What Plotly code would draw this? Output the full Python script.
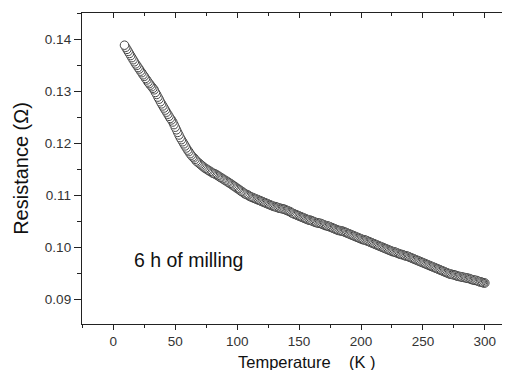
import plotly.graph_objects as go

temperature = [
    9, 10, 11, 12, 13, 14, 15, 16, 17, 18,
    19, 20, 21, 22, 23, 24, 25, 26, 27, 28,
    29, 30, 31, 32, 33, 34, 35, 36, 37, 38,
    39, 40, 41, 42, 43, 44, 45, 46, 47, 48,
    49, 50, 51, 52, 53, 54, 55, 56, 57, 58,
    59, 60, 61, 62, 63, 64, 65, 66, 67, 68,
    69, 70, 71, 72, 73, 74, 75, 76, 77, 78,
    79, 80, 81, 82, 83, 84, 85, 86, 87, 88,
    89, 90, 91, 92, 93, 94, 95, 96, 97, 98,
    99, 100, 101, 102, 103, 104, 105, 106, 107, 108,
    109, 110, 111, 112, 113, 114, 115, 116, 117, 118,
    119, 120, 121, 122, 123, 124, 125, 126, 127, 128,
    129, 130, 131, 132, 133, 134, 135, 136, 137, 138,
    139, 140, 141, 142, 143, 144, 145, 146, 147, 148,
    149, 150, 151, 152, 153, 154, 155, 156, 157, 158,
    159, 160, 161, 162, 163, 164, 165, 166, 167, 168,
    169, 170, 171, 172, 173, 174, 175, 176, 177, 178,
    179, 180, 181, 182, 183, 184, 185, 186, 187, 188,
    189, 190, 191, 192, 193, 194, 195, 196, 197, 198,
    199, 200, 201, 202, 203, 204, 205, 206, 207, 208,
    209, 210, 211, 212, 213, 214, 215, 216, 217, 218,
    219, 220, 221, 222, 223, 224, 225, 226, 227, 228,
    229, 230, 231, 232, 233, 234, 235, 236, 237, 238,
    239, 240, 241, 242, 243, 244, 245, 246, 247, 248,
    249, 250, 251, 252, 253, 254, 255, 256, 257, 258,
    259, 260, 261, 262, 263, 264, 265, 266, 267, 268,
    269, 270, 271, 272, 273, 274, 275, 276, 277, 278,
    279, 280, 281, 282, 283, 284, 285, 286, 287, 288,
    289, 290, 291, 292, 293, 294, 295, 296, 297, 298,
    299, 300]
resistance = [
    0.1389, 0.1385, 0.1381, 0.1377, 0.1373, 0.1369, 0.1365, 0.1361, 0.1357, 0.1353,
    0.1350, 0.1346, 0.1343, 0.1339, 0.1336, 0.1332, 0.1329, 0.1325, 0.1322, 0.1318,
    0.1315, 0.1312, 0.1309, 0.1306, 0.1303, 0.1298, 0.1294, 0.1289, 0.1285, 0.1280,
    0.1276, 0.1272, 0.1268, 0.1264, 0.1260, 0.1256, 0.1252, 0.1248, 0.1245, 0.1241,
    0.1236, 0.1231, 0.1226, 0.1221, 0.1216, 0.1211, 0.1207, 0.1203, 0.1199, 0.1195,
    0.1191, 0.1187, 0.1184, 0.1180, 0.1177, 0.1174, 0.1172, 0.1169, 0.1166, 0.1164,
    0.1162, 0.1160, 0.1158, 0.1156, 0.1154, 0.1152, 0.1151, 0.1149, 0.1148, 0.1146,
    0.1145, 0.1143, 0.1142, 0.1141, 0.1140, 0.1138, 0.1137, 0.1135, 0.1134, 0.1132,
    0.1131, 0.1129, 0.1128, 0.1126, 0.1125, 0.1123, 0.1122, 0.1120, 0.1118, 0.1117,
    0.1115, 0.1113, 0.1112, 0.1110, 0.1108, 0.1107, 0.1105, 0.1103, 0.1102, 0.1101,
    0.1100, 0.1098, 0.1097, 0.1096, 0.1095, 0.1094, 0.1093, 0.1092, 0.1091, 0.1090,
    0.1089, 0.1088, 0.1087, 0.1086, 0.1085, 0.1084, 0.1083, 0.1082, 0.1081, 0.1080,
    0.1079, 0.1078, 0.1078, 0.1077, 0.1076, 0.1075, 0.1075, 0.1074, 0.1074, 0.1073,
    0.1072, 0.1071, 0.1070, 0.1069, 0.1068, 0.1066, 0.1065, 0.1064, 0.1063, 0.1062,
    0.1061, 0.1060, 0.1059, 0.1058, 0.1057, 0.1056, 0.1055, 0.1054, 0.1053, 0.1052,
    0.1052, 0.1051, 0.1050, 0.1049, 0.1048, 0.1047, 0.1047, 0.1046, 0.1046, 0.1045,
    0.1044, 0.1043, 0.1042, 0.1041, 0.1041, 0.1040, 0.1039, 0.1038, 0.1037, 0.1036,
    0.1035, 0.1034, 0.1033, 0.1032, 0.1032, 0.1031, 0.1031, 0.1030, 0.1029, 0.1028,
    0.1027, 0.1026, 0.1025, 0.1024, 0.1023, 0.1022, 0.1021, 0.1020, 0.1019, 0.1018,
    0.1017, 0.1016, 0.1015, 0.1014, 0.1014, 0.1013, 0.1012, 0.1011, 0.1010, 0.1009,
    0.1008, 0.1007, 0.1006, 0.1005, 0.1004, 0.1003, 0.1002, 0.1001, 0.1000, 0.0999,
    0.0998, 0.0997, 0.0996, 0.0995, 0.0994, 0.0993, 0.0992, 0.0991, 0.0991, 0.0990,
    0.0989, 0.0988, 0.0987, 0.0986, 0.0986, 0.0985, 0.0984, 0.0983, 0.0983, 0.0982,
    0.0981, 0.0980, 0.0979, 0.0978, 0.0977, 0.0976, 0.0975, 0.0974, 0.0973, 0.0972,
    0.0971, 0.0970, 0.0969, 0.0968, 0.0967, 0.0966, 0.0965, 0.0964, 0.0963, 0.0962,
    0.0961, 0.0960, 0.0959, 0.0958, 0.0957, 0.0956, 0.0955, 0.0954, 0.0953, 0.0952,
    0.0951, 0.0950, 0.0949, 0.0948, 0.0948, 0.0947, 0.0947, 0.0946, 0.0945, 0.0944,
    0.0944, 0.0943, 0.0943, 0.0942, 0.0942, 0.0941, 0.0941, 0.0940, 0.0940, 0.0939,
    0.0938, 0.0937, 0.0937, 0.0936, 0.0936, 0.0935, 0.0934, 0.0933, 0.0933, 0.0932,
    0.0931, 0.0931]

x_tickvals = [0, 50, 100, 150, 200, 250, 300]
y_tickvals = [0.09, 0.10, 0.11, 0.12, 0.13, 0.14]
y_ticktext = ["0.09", "0.10", "0.11", "0.12", "0.13", "0.14"]
label_text = "6 h of milling"
x_title = "Temperature\u00a0\u00a0\u00a0\u00a0(K\u00a0)"
y_title = "Resistance (Ω)"

XR = [-25.3, 319.5]
YR = [0.0852, 0.1451]
FONT = "Liberation Sans, Arial, sans-serif"

fig = go.Figure()
# measured from high T down to low T, so the low-T circle is drawn last (on top)
fig.add_trace(go.Scatter(
    x=temperature[::-1], y=resistance[::-1], mode="markers",
    marker=dict(symbol="circle", size=8.5, color="white",
                line=dict(color="#444444", width=1)),
    showlegend=False, hoverinfo="skip"))
# helper trace for the mirrored (top/right) axes
fig.add_trace(go.Scatter(
    x=temperature, y=resistance, mode="markers", xaxis="x2", yaxis="y2",
    marker=dict(opacity=0), showlegend=False, hoverinfo="skip"))

fig.add_annotation(x=14.8, y=0.0976, xref="x", yref="y", text=label_text,
                   showarrow=False, xanchor="left", yanchor="middle",
                   font=dict(family=FONT, size=19.5, color="#111111"))
# x-axis title placed as an annotation for exact positioning
fig.add_annotation(x=0.528, y=-0.122, xref="paper", yref="paper", text=x_title,
                   showarrow=False, xanchor="center", yanchor="middle",
                   font=dict(family=FONT, size=16.5, color="#111111"))

fig.update_layout(
    width=502, height=362,
    margin=dict(l=74, r=1, t=5, b=46),
    paper_bgcolor="white", plot_bgcolor="white",
    font=dict(family=FONT, color="#222222"),
    xaxis=dict(range=XR, tickvals=x_tickvals, ticks="outside", ticklen=5,
               tickwidth=1, tickcolor="#222222", automargin=False,
               minor=dict(dtick=25, tick0=0, ticks="outside", ticklen=3,
                          tickcolor="#222222"),
               showline=True, linecolor="#222222", linewidth=1.3, mirror=True,
               showgrid=False, zeroline=False,
               tickfont=dict(size=13.5, color="#333333")),
    yaxis=dict(range=YR, tickvals=y_tickvals, ticktext=y_ticktext,
               ticks="outside", ticklen=7, tickwidth=1, tickcolor="#222222",
               automargin=False,
               minor=dict(dtick=0.005, tick0=0.085, ticks="outside", ticklen=4,
                          tickcolor="#222222"),
               showline=True, linecolor="#222222", linewidth=1.3, mirror=True,
               showgrid=False, zeroline=False,
               tickfont=dict(size=13.5, color="#333333"),
               title=dict(text=y_title, standoff=10,
                          font=dict(size=20, color="#111111"))),
    xaxis2=dict(range=XR, overlaying="x", side="top", anchor="y", automargin=False,
                tickvals=x_tickvals, ticks="inside", ticklen=5, tickcolor="#222222",
                minor=dict(dtick=25, tick0=0, ticks="inside", ticklen=3,
                           tickcolor="#222222"),
                showticklabels=False, showline=False, showgrid=False, zeroline=False),
    yaxis2=dict(range=YR, overlaying="y", side="right", anchor="x", automargin=False,
                tickvals=y_tickvals, ticks="inside", ticklen=5, tickcolor="#222222",
                minor=dict(dtick=0.005, tick0=0.085, ticks="inside", ticklen=3,
                           tickcolor="#222222"),
                showticklabels=False, showline=False, showgrid=False, zeroline=False),
)

fig.write_html("out.html")
